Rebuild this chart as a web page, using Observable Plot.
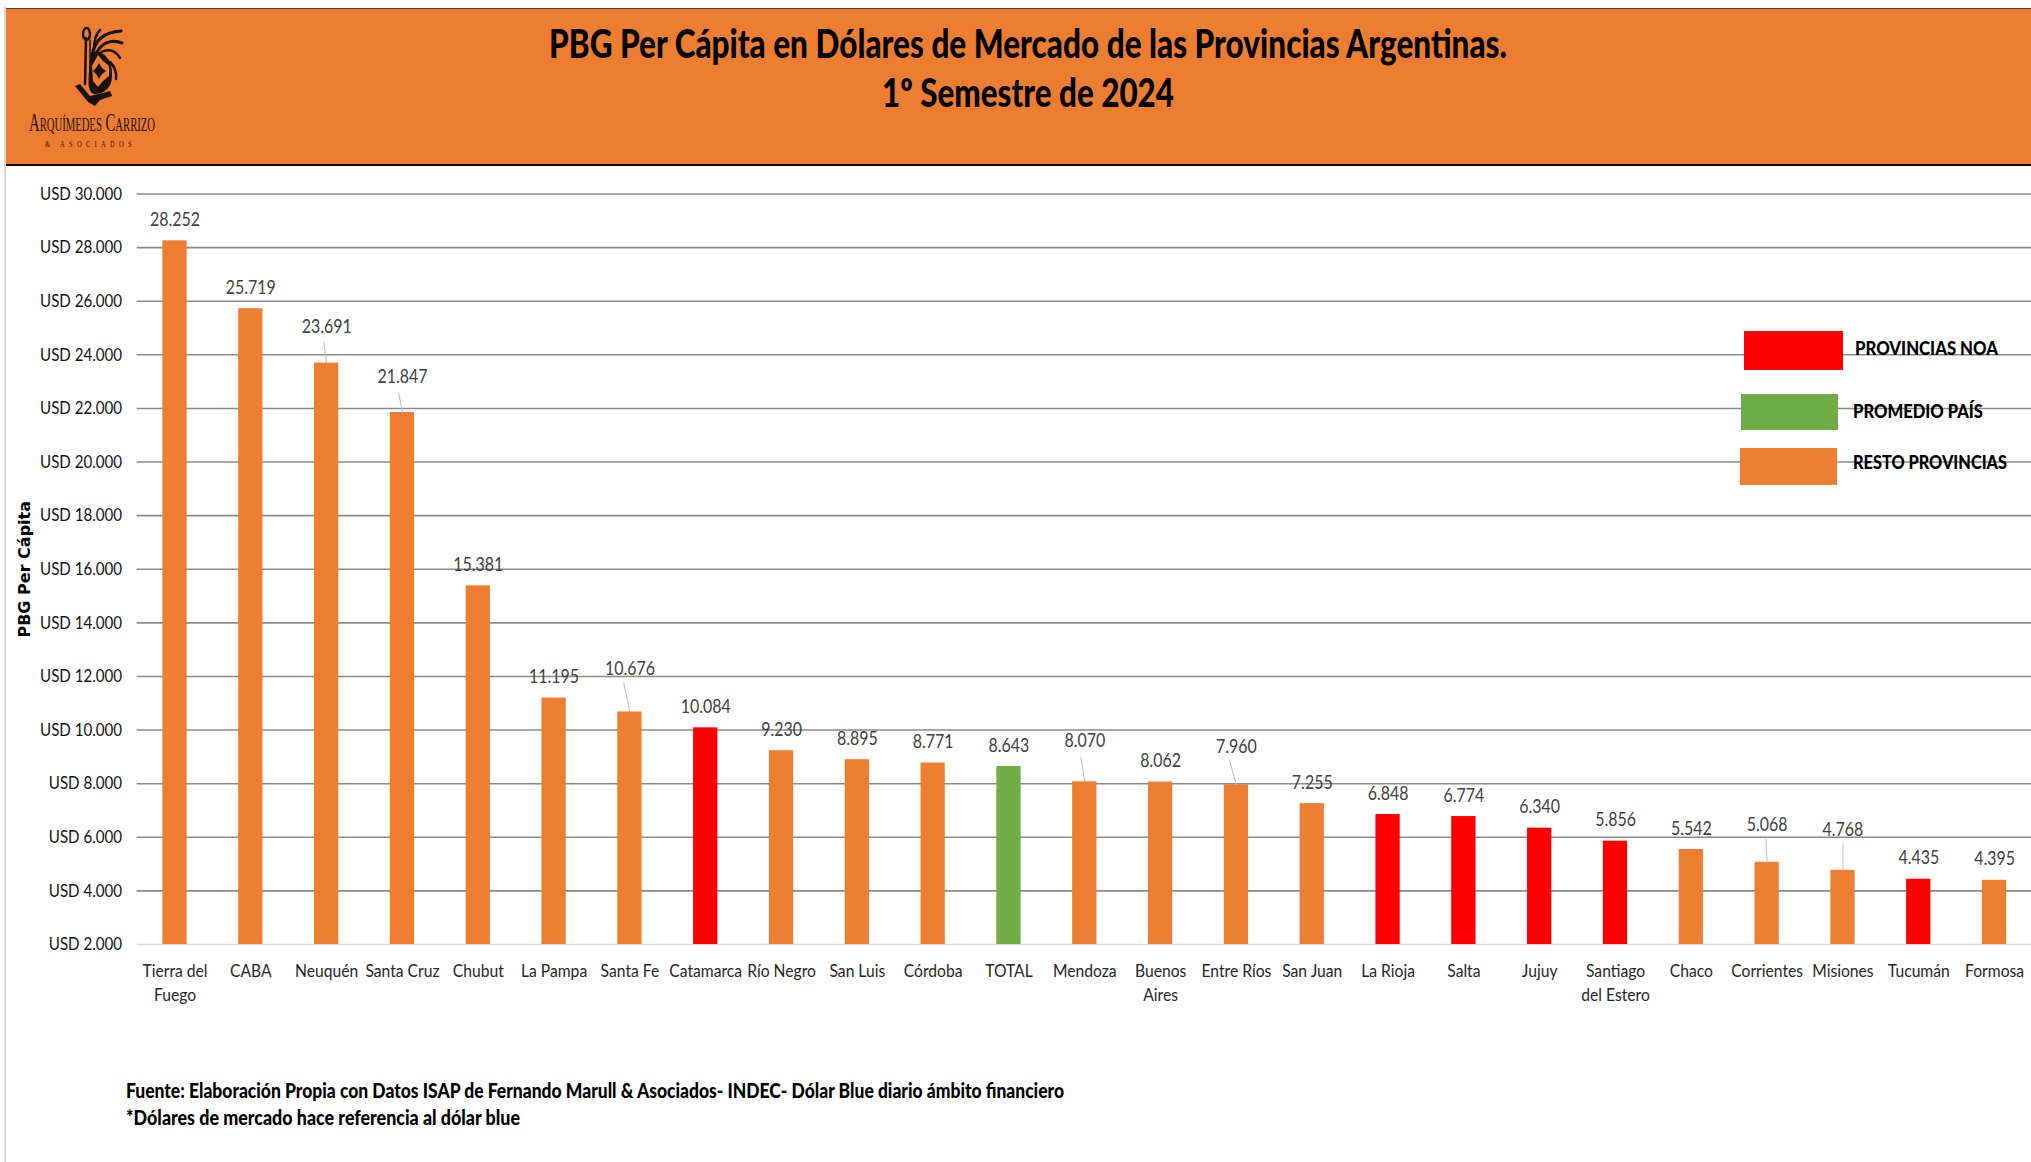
<!DOCTYPE html>
<html lang="es">
<head>
<meta charset="utf-8">
<title>PBG Per Cápita</title>
<script src="https://cdn.jsdelivr.net/npm/d3@7"></script>
<script src="https://cdn.jsdelivr.net/npm/@observablehq/plot@0.6"></script>
<style>
  html,body{margin:0;padding:0;background:#fff;overflow:hidden}
  #page{position:relative;width:2031px;height:1162px;overflow:hidden;font-family:Lato,"Open Sans",sans-serif;color:#000}
  #edge{position:absolute;left:4px;top:7px;bottom:0;width:2px;background:#d9d9d9}
  #header{position:absolute;left:6px;top:8px;right:0;height:155px;background:#ED7D31;border-top:1px solid #404040;border-bottom:2px solid #000}
  .fit{position:absolute;white-space:nowrap;transform-origin:0 50%;line-height:1}
  .title{font-weight:900;font-size:39px;color:#000}
  #chart{position:absolute;left:0;top:166px}
  .swatch{position:absolute}
  .legend{font-weight:900;font-size:19px}
  .note{font-weight:900;font-size:20px}
  #logoName{font-family:"Liberation Serif",serif;font-variant:small-caps;font-size:25px;color:#1a1208}
  #logoSub{font-family:"Liberation Serif",serif;font-size:9px;color:#1a1208;letter-spacing:6px}
</style>
</head>
<body>
<div id="page">
  <div id="edge"></div>
  <div id="header"></div>
  <svg style="position:absolute;left:0;top:0" width="200" height="165" viewBox="0 0 200 165" aria-hidden="true">
    <g fill="none" stroke="#17110a" stroke-linecap="round">
      <path stroke-width="3" d="M92 56 C94 42 102 32 121 31"/>
      <path stroke-width="3" d="M95 56 C100 44 110 38 122 43"/>
      <path stroke-width="2.5" d="M97 56 C104 48 114 48 120 58"/>
      <path stroke-width="2.5" d="M94 50 C94 42 96 34 100 30"/>
      <path stroke-width="2.5" d="M110 62 C114 66 117 72 116 79"/>
      <path stroke-width="2.5" d="M86 38 L85 84"/>
      <path stroke-width="1.5" d="M90 40 L90 82"/>
      <ellipse stroke-width="2.5" cx="86.5" cy="34" rx="3.5" ry="6"/>
    </g>
    <path fill="#17110a" d="M92 52 C104 50 113 60 112 76 C112 88 104 94 94 94 C88 92 88 84 89 72 C89 64 90 58 92 52 Z"/>
    <path fill="#17110a" d="M75 86 L80 84 L90 96 L110 91 L112 96 L100 100 L95 106 L88 102 Z"/>
    <path fill="#ED7D31" d="M98 55 L103 61 L109 66 L109 76 L103 81 L98 87 L93 81 L92 66 Z"/>
    <path fill="#17110a" d="M99 63 L102 68 L106 71 L102 74 L99 79 L96 74 L93 71 L96 68 Z"/>
  </svg>
  <div id="logoName" class="fit" data-x="29" data-y="122" data-w="126">Arquímedes Carrizo</div>
  <div id="logoSub" class="fit" data-x="45" data-y="144" data-w="91">&amp; ASOCIADOS</div>
  <div class="fit title" data-x="549" data-y="43" data-w="958">PBG Per Cápita en Dólares de Mercado de las Provincias Argentinas.</div>
  <div class="fit title" data-x="882" data-y="92" data-w="292">1º Semestre de 2024</div>
  <div id="chart"></div>
  <div class="swatch" style="left:1744px;top:331px;width:99px;height:39px;background:#FF0000"></div>
  <div class="swatch" style="left:1741px;top:394px;width:97px;height:36px;background:#70AD47"></div>
  <div class="swatch" style="left:1740px;top:448px;width:97px;height:37px;background:#ED7D31"></div>
  <div class="fit legend" data-x="1855" data-y="347" data-w="143">PROVINCIAS NOA</div>
  <div class="fit legend" data-x="1853" data-y="410" data-w="130">PROMEDIO PAÍS</div>
  <div class="fit legend" data-x="1853" data-y="461" data-w="154">RESTO PROVINCIAS</div>
  <div class="fit note" data-x="126" data-y="1090" data-w="938">Fuente: Elaboración Propia con Datos ISAP de Fernando Marull &amp; Asociados- INDEC- Dólar Blue diario ámbito financiero</div>
  <div class="fit note" data-x="126" data-y="1117" data-w="394">*Dólares de mercado hace referencia al dólar blue</div>
</div>
<script>
const provinces = ["Tierra del\nFuego","CABA","Neuquén","Santa Cruz","Chubut","La Pampa","Santa Fe","Catamarca","Río Negro","San Luis","Córdoba","TOTAL","Mendoza","Buenos\nAires","Entre Ríos","San Juan","La Rioja","Salta","Jujuy","Santiago\ndel Estero","Chaco","Corrientes","Misiones","Tucumán","Formosa"];
const pbg = [28252,25719,23691,21847,15381,11195,10676,10084,9230,8895,8771,8643,8070,8062,7960,7255,6848,6774,6340,5856,5542,5068,4768,4435,4395];
const noa = ["Catamarca","La Rioja","Salta","Jujuy","Santiago\ndel Estero","Tucumán"];
const average = ["TOTAL"];
const yTicks = [2000,4000,6000,8000,10000,12000,14000,16000,18000,20000,22000,24000,26000,28000,30000];
const groupNames = ["PROVINCIAS NOA","PROMEDIO PAÍS","RESTO PROVINCIAS"];
const groupColors = ["#FF0000","#70AD47","#ED7D31"];

// Labels that were dragged away from their bar, with their thin leader line.
const moved = [
  {p:"Neuquén",lift:36,len:21,rot:-8},
  {p:"Santa Cruz",lift:36,len:21,rot:-11},
  {p:"Santa Fe",lift:43,len:30,rot:-12},
  {p:"Mendoza",lift:41,len:25,rot:-9},
  {p:"Entre Ríos",lift:38,len:25,rot:-16},
  {p:"Corrientes",lift:37,len:23,rot:-3},
  {p:"Misiones",lift:40,len:26,rot:0}
];

const rows = provinces.map((p,i)=>({
  p, v:pbg[i],
  g: noa.includes(p) ? groupNames[0] : average.includes(p) ? groupNames[1] : groupNames[2]
}));
const byName = new Map(rows.map(r=>[r.p,r]));
const movedNames = new Set(moved.map(m=>m.p));
const num = d3.formatLocale({decimal:",",thousands:".",grouping:[3],currency:["",""]}).format(",");
const font = 'Lato,"Open Sans",sans-serif';
const shapeLine = {draw(c,l){c.moveTo(0,0);c.lineTo(0,-l);}};

const chart = Plot.plot({
  width:2031, height:860,
  marginTop:27.5, marginBottom:82, marginLeft:136.6, marginRight:0,
  style:{background:"transparent",overflow:"visible"},
  x:{domain:provinces,range:[136.6,2032],paddingInner:0.68,paddingOuter:0.34,align:0.5,round:false,label:null},
  y:{domain:[2000,30000],label:null},
  color:{domain:groupNames,range:groupColors},
  marks:[
    Plot.ruleY(yTicks.slice(1),{stroke:"#8a8a8a",strokeWidth:1.6}),
    Plot.ruleY(yTicks.slice(0,1),{stroke:"#d9d9d9",strokeWidth:1.6}),
    Plot.barY(rows,{x:"p",y1:yTicks[0],y2:"v",fill:"g"}),
    ...moved.map(m=>Plot.vector([byName.get(m.p)],{x:"p",y:"v",length:m.len,rotate:m.rot,anchor:"start",shape:shapeLine,stroke:"#bfbfbf",strokeWidth:1})),
    Plot.text(rows.filter(r=>!movedNames.has(r.p)),{x:"p",y:"v",text:d=>num(d.v),dy:-21,fontFamily:font,fontSize:19,fill:"#404040"}),
    ...moved.map(m=>Plot.text([byName.get(m.p)],{x:"p",y:"v",text:d=>num(d.v),dy:-m.lift,fontFamily:font,fontSize:19,fill:"#404040"})),
    Plot.axisY({ticks:yTicks,tickSize:0,tickPadding:15,tickFormat:d=>"USD "+num(d),label:null,fontFamily:font,fontSize:18,fill:"#111"}),
    Plot.axisX({tickSize:0,tickPadding:14.5,label:null,lineHeight:1.37,fontFamily:font,fontSize:18,fill:"#262626"}),
    Plot.text(["PBG Per Cápita"],{frameAnchor:"left",textAnchor:"middle",rotate:-90,dx:-112.6,fontFamily:"DejaVu Sans",fontWeight:700,fontSize:16,fill:"#000"})
  ]
});
document.getElementById("chart").appendChild(chart);

// Calibri-like narrow setting for the chart's labels: squeeze each text about its own anchor.
chart.querySelectorAll("text").forEach(t=>{
  if (t.textContent === "PBG Per Cápita") return;
  const old = t.getAttribute("transform") || "";
  const isXTick = t.closest('[aria-label="x-axis tick label"]');
  t.setAttribute("transform", old+(isXTick ? " scale(0.87,1)" : " scale(0.84,1)"));
  t.querySelectorAll("tspan").forEach(s=>{
    if (s.hasAttribute("x")) s.setAttribute("x", 0);
  });
});

// Stretch each free-standing line of text to the width it has in the chart.
document.querySelectorAll(".fit").forEach(el=>{
  const w = el.getBoundingClientRect().width, h = el.getBoundingClientRect().height;
  el.style.left = el.dataset.x+"px";
  el.style.top = (el.dataset.y-h/2)+"px";
  el.style.transform = `scaleX(${el.dataset.w/w})`;
});
</script>
</body>
</html>
